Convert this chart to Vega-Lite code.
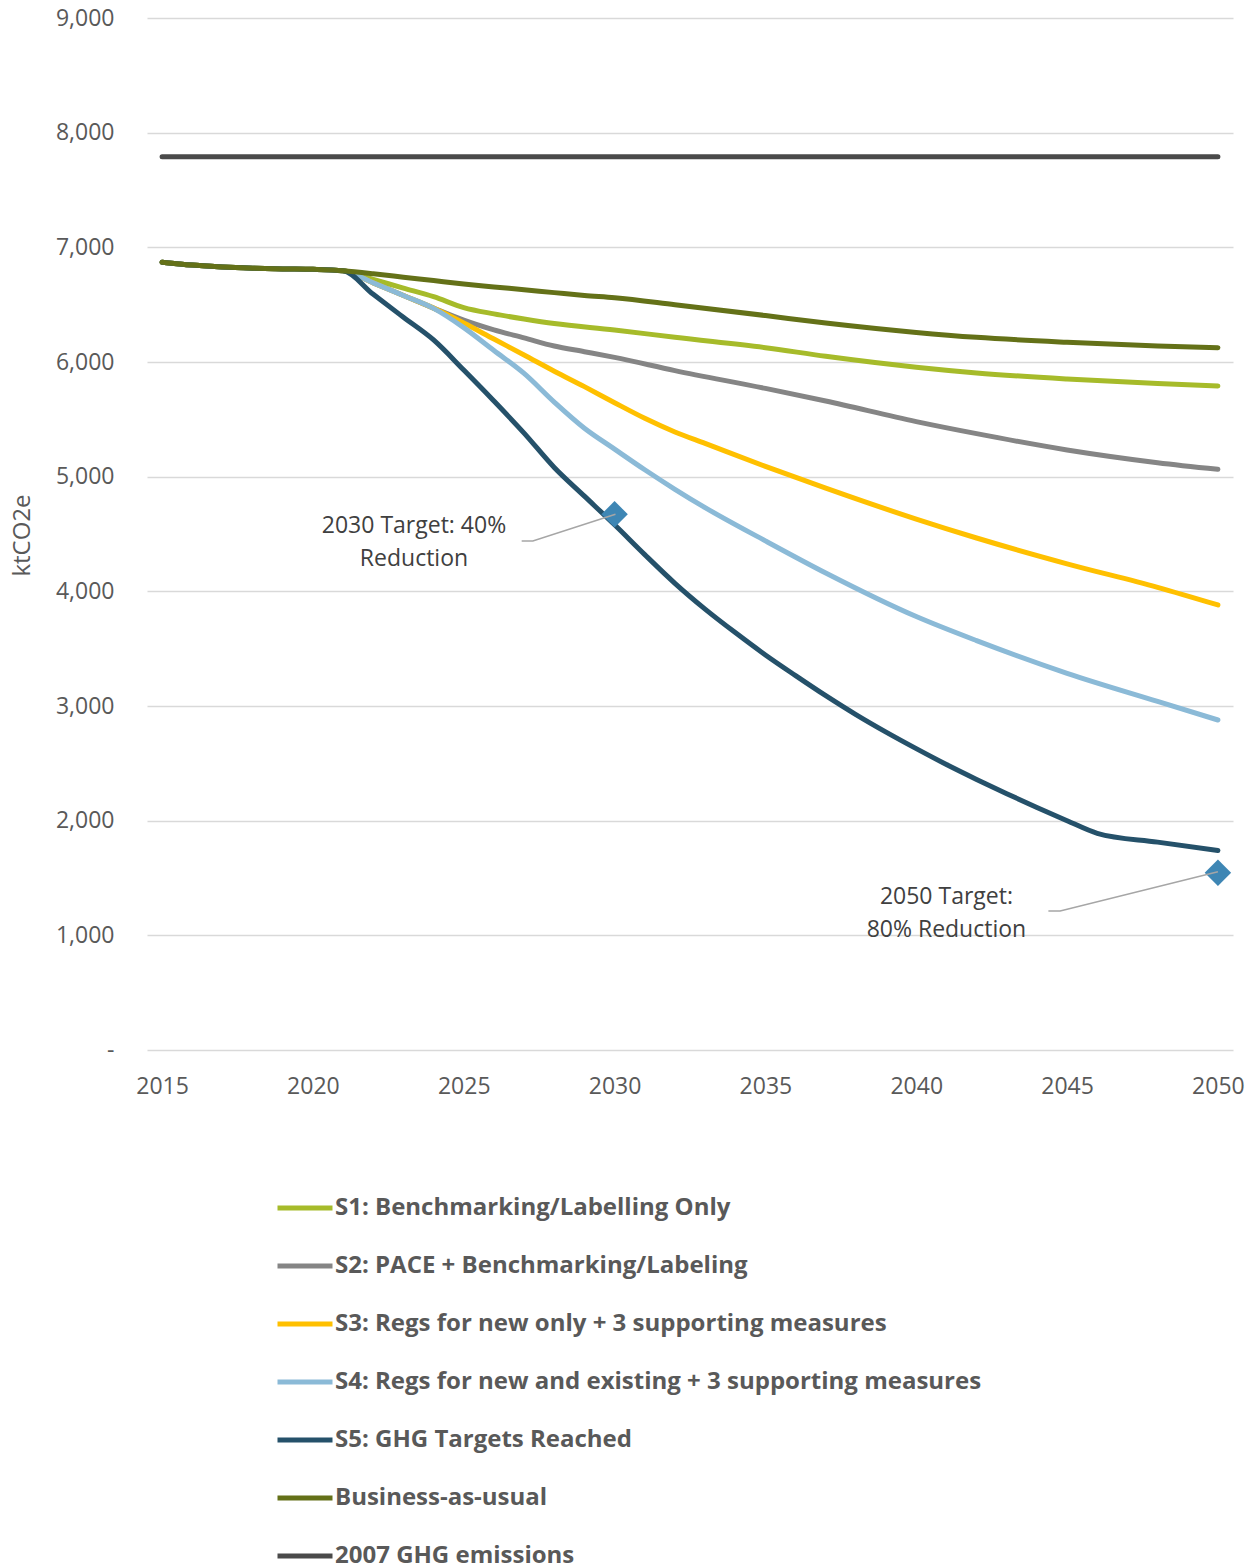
{
  "$schema": "https://vega.github.io/schema/vega-lite/v6.json",
  "autosize": "none",
  "width": 1086,
  "height": 1032,
  "padding": {"left": 147, "top": 18, "right": 26, "bottom": 518},
  "config": {
    "font": "Open Sans",
    "view": {"stroke": null},
    "axis": {"labelFont": "Open Sans", "titleFont": "Open Sans"}
  },
  "datasets": {
    "series": [
      {"series": "S1: Benchmarking/Labelling Only", "year": 2015, "value": 6870},
      {"series": "S1: Benchmarking/Labelling Only", "year": 2016, "value": 6845},
      {"series": "S1: Benchmarking/Labelling Only", "year": 2017, "value": 6828},
      {"series": "S1: Benchmarking/Labelling Only", "year": 2018, "value": 6818},
      {"series": "S1: Benchmarking/Labelling Only", "year": 2019, "value": 6812},
      {"series": "S1: Benchmarking/Labelling Only", "year": 2020, "value": 6808},
      {"series": "S1: Benchmarking/Labelling Only", "year": 2021, "value": 6795},
      {"series": "S1: Benchmarking/Labelling Only", "year": 2022, "value": 6720},
      {"series": "S1: Benchmarking/Labelling Only", "year": 2023, "value": 6645},
      {"series": "S1: Benchmarking/Labelling Only", "year": 2024, "value": 6570},
      {"series": "S1: Benchmarking/Labelling Only", "year": 2025, "value": 6475},
      {"series": "S1: Benchmarking/Labelling Only", "year": 2026, "value": 6420},
      {"series": "S1: Benchmarking/Labelling Only", "year": 2027, "value": 6375},
      {"series": "S1: Benchmarking/Labelling Only", "year": 2028, "value": 6335},
      {"series": "S1: Benchmarking/Labelling Only", "year": 2030, "value": 6280},
      {"series": "S1: Benchmarking/Labelling Only", "year": 2032, "value": 6215},
      {"series": "S1: Benchmarking/Labelling Only", "year": 2035, "value": 6125},
      {"series": "S1: Benchmarking/Labelling Only", "year": 2037, "value": 6050},
      {"series": "S1: Benchmarking/Labelling Only", "year": 2040, "value": 5955},
      {"series": "S1: Benchmarking/Labelling Only", "year": 2042, "value": 5905},
      {"series": "S1: Benchmarking/Labelling Only", "year": 2045, "value": 5852},
      {"series": "S1: Benchmarking/Labelling Only", "year": 2048, "value": 5812},
      {"series": "S1: Benchmarking/Labelling Only", "year": 2050, "value": 5791},

      {"series": "S2: PACE + Benchmarking/Labeling", "year": 2015, "value": 6870},
      {"series": "S2: PACE + Benchmarking/Labeling", "year": 2016, "value": 6845},
      {"series": "S2: PACE + Benchmarking/Labeling", "year": 2017, "value": 6828},
      {"series": "S2: PACE + Benchmarking/Labeling", "year": 2018, "value": 6818},
      {"series": "S2: PACE + Benchmarking/Labeling", "year": 2019, "value": 6812},
      {"series": "S2: PACE + Benchmarking/Labeling", "year": 2020, "value": 6808},
      {"series": "S2: PACE + Benchmarking/Labeling", "year": 2021, "value": 6795},
      {"series": "S2: PACE + Benchmarking/Labeling", "year": 2022, "value": 6690},
      {"series": "S2: PACE + Benchmarking/Labeling", "year": 2023, "value": 6580},
      {"series": "S2: PACE + Benchmarking/Labeling", "year": 2024, "value": 6470},
      {"series": "S2: PACE + Benchmarking/Labeling", "year": 2025, "value": 6365},
      {"series": "S2: PACE + Benchmarking/Labeling", "year": 2026, "value": 6280},
      {"series": "S2: PACE + Benchmarking/Labeling", "year": 2027, "value": 6210},
      {"series": "S2: PACE + Benchmarking/Labeling", "year": 2028, "value": 6139},
      {"series": "S2: PACE + Benchmarking/Labeling", "year": 2029, "value": 6090},
      {"series": "S2: PACE + Benchmarking/Labeling", "year": 2030, "value": 6040},
      {"series": "S2: PACE + Benchmarking/Labeling", "year": 2032, "value": 5925},
      {"series": "S2: PACE + Benchmarking/Labeling", "year": 2035, "value": 5770},
      {"series": "S2: PACE + Benchmarking/Labeling", "year": 2037, "value": 5660},
      {"series": "S2: PACE + Benchmarking/Labeling", "year": 2040, "value": 5480},
      {"series": "S2: PACE + Benchmarking/Labeling", "year": 2042, "value": 5375},
      {"series": "S2: PACE + Benchmarking/Labeling", "year": 2045, "value": 5233},
      {"series": "S2: PACE + Benchmarking/Labeling", "year": 2048, "value": 5122},
      {"series": "S2: PACE + Benchmarking/Labeling", "year": 2050, "value": 5064},

      {"series": "S3: Regs for new only + 3 supporting measures", "year": 2015, "value": 6870},
      {"series": "S3: Regs for new only + 3 supporting measures", "year": 2016, "value": 6845},
      {"series": "S3: Regs for new only + 3 supporting measures", "year": 2017, "value": 6828},
      {"series": "S3: Regs for new only + 3 supporting measures", "year": 2018, "value": 6818},
      {"series": "S3: Regs for new only + 3 supporting measures", "year": 2019, "value": 6812},
      {"series": "S3: Regs for new only + 3 supporting measures", "year": 2020, "value": 6808},
      {"series": "S3: Regs for new only + 3 supporting measures", "year": 2021, "value": 6795},
      {"series": "S3: Regs for new only + 3 supporting measures", "year": 2022, "value": 6690},
      {"series": "S3: Regs for new only + 3 supporting measures", "year": 2023, "value": 6580},
      {"series": "S3: Regs for new only + 3 supporting measures", "year": 2024, "value": 6470},
      {"series": "S3: Regs for new only + 3 supporting measures", "year": 2025, "value": 6340},
      {"series": "S3: Regs for new only + 3 supporting measures", "year": 2026, "value": 6200},
      {"series": "S3: Regs for new only + 3 supporting measures", "year": 2027, "value": 6061},
      {"series": "S3: Regs for new only + 3 supporting measures", "year": 2028, "value": 5920},
      {"series": "S3: Regs for new only + 3 supporting measures", "year": 2029, "value": 5785},
      {"series": "S3: Regs for new only + 3 supporting measures", "year": 2030, "value": 5645},
      {"series": "S3: Regs for new only + 3 supporting measures", "year": 2031, "value": 5509},
      {"series": "S3: Regs for new only + 3 supporting measures", "year": 2032, "value": 5390},
      {"series": "S3: Regs for new only + 3 supporting measures", "year": 2033, "value": 5290},
      {"series": "S3: Regs for new only + 3 supporting measures", "year": 2035, "value": 5090},
      {"series": "S3: Regs for new only + 3 supporting measures", "year": 2037, "value": 4900},
      {"series": "S3: Regs for new only + 3 supporting measures", "year": 2040, "value": 4630},
      {"series": "S3: Regs for new only + 3 supporting measures", "year": 2042, "value": 4465},
      {"series": "S3: Regs for new only + 3 supporting measures", "year": 2045, "value": 4240},
      {"series": "S3: Regs for new only + 3 supporting measures", "year": 2048, "value": 4035},
      {"series": "S3: Regs for new only + 3 supporting measures", "year": 2050, "value": 3881},

      {"series": "S4: Regs for new and existing + 3 supporting measures", "year": 2015, "value": 6870},
      {"series": "S4: Regs for new and existing + 3 supporting measures", "year": 2016, "value": 6845},
      {"series": "S4: Regs for new and existing + 3 supporting measures", "year": 2017, "value": 6828},
      {"series": "S4: Regs for new and existing + 3 supporting measures", "year": 2018, "value": 6818},
      {"series": "S4: Regs for new and existing + 3 supporting measures", "year": 2019, "value": 6812},
      {"series": "S4: Regs for new and existing + 3 supporting measures", "year": 2020, "value": 6808},
      {"series": "S4: Regs for new and existing + 3 supporting measures", "year": 2021, "value": 6795},
      {"series": "S4: Regs for new and existing + 3 supporting measures", "year": 2022, "value": 6690},
      {"series": "S4: Regs for new and existing + 3 supporting measures", "year": 2023, "value": 6580},
      {"series": "S4: Regs for new and existing + 3 supporting measures", "year": 2024, "value": 6468},
      {"series": "S4: Regs for new and existing + 3 supporting measures", "year": 2025, "value": 6300},
      {"series": "S4: Regs for new and existing + 3 supporting measures", "year": 2026, "value": 6100},
      {"series": "S4: Regs for new and existing + 3 supporting measures", "year": 2027, "value": 5900},
      {"series": "S4: Regs for new and existing + 3 supporting measures", "year": 2028, "value": 5650},
      {"series": "S4: Regs for new and existing + 3 supporting measures", "year": 2029, "value": 5422},
      {"series": "S4: Regs for new and existing + 3 supporting measures", "year": 2030, "value": 5240},
      {"series": "S4: Regs for new and existing + 3 supporting measures", "year": 2031, "value": 5060},
      {"series": "S4: Regs for new and existing + 3 supporting measures", "year": 2032, "value": 4890},
      {"series": "S4: Regs for new and existing + 3 supporting measures", "year": 2033, "value": 4730},
      {"series": "S4: Regs for new and existing + 3 supporting measures", "year": 2035, "value": 4440},
      {"series": "S4: Regs for new and existing + 3 supporting measures", "year": 2037, "value": 4160},
      {"series": "S4: Regs for new and existing + 3 supporting measures", "year": 2040, "value": 3780},
      {"series": "S4: Regs for new and existing + 3 supporting measures", "year": 2042, "value": 3570},
      {"series": "S4: Regs for new and existing + 3 supporting measures", "year": 2045, "value": 3285},
      {"series": "S4: Regs for new and existing + 3 supporting measures", "year": 2048, "value": 3040},
      {"series": "S4: Regs for new and existing + 3 supporting measures", "year": 2050, "value": 2878},

      {"series": "S5: GHG Targets Reached", "year": 2015, "value": 6870},
      {"series": "S5: GHG Targets Reached", "year": 2016, "value": 6845},
      {"series": "S5: GHG Targets Reached", "year": 2017, "value": 6828},
      {"series": "S5: GHG Targets Reached", "year": 2018, "value": 6818},
      {"series": "S5: GHG Targets Reached", "year": 2019, "value": 6812},
      {"series": "S5: GHG Targets Reached", "year": 2020, "value": 6808},
      {"series": "S5: GHG Targets Reached", "year": 2021, "value": 6795},
      {"series": "S5: GHG Targets Reached", "year": 2022, "value": 6590},
      {"series": "S5: GHG Targets Reached", "year": 2023, "value": 6390},
      {"series": "S5: GHG Targets Reached", "year": 2024, "value": 6192},
      {"series": "S5: GHG Targets Reached", "year": 2025, "value": 5930},
      {"series": "S5: GHG Targets Reached", "year": 2026, "value": 5660},
      {"series": "S5: GHG Targets Reached", "year": 2027, "value": 5380},
      {"series": "S5: GHG Targets Reached", "year": 2028, "value": 5080},
      {"series": "S5: GHG Targets Reached", "year": 2029, "value": 4830},
      {"series": "S5: GHG Targets Reached", "year": 2030, "value": 4580},
      {"series": "S5: GHG Targets Reached", "year": 2031, "value": 4320},
      {"series": "S5: GHG Targets Reached", "year": 2032, "value": 4070},
      {"series": "S5: GHG Targets Reached", "year": 2033, "value": 3845},
      {"series": "S5: GHG Targets Reached", "year": 2034, "value": 3640},
      {"series": "S5: GHG Targets Reached", "year": 2035, "value": 3445},
      {"series": "S5: GHG Targets Reached", "year": 2036, "value": 3265},
      {"series": "S5: GHG Targets Reached", "year": 2037, "value": 3090},
      {"series": "S5: GHG Targets Reached", "year": 2038, "value": 2925},
      {"series": "S5: GHG Targets Reached", "year": 2039, "value": 2772},
      {"series": "S5: GHG Targets Reached", "year": 2040, "value": 2628},
      {"series": "S5: GHG Targets Reached", "year": 2041, "value": 2490},
      {"series": "S5: GHG Targets Reached", "year": 2042, "value": 2360},
      {"series": "S5: GHG Targets Reached", "year": 2043, "value": 2235},
      {"series": "S5: GHG Targets Reached", "year": 2044, "value": 2115},
      {"series": "S5: GHG Targets Reached", "year": 2045, "value": 2000},
      {"series": "S5: GHG Targets Reached", "year": 2046, "value": 1890},
      {"series": "S5: GHG Targets Reached", "year": 2048, "value": 1813},
      {"series": "S5: GHG Targets Reached", "year": 2050, "value": 1740},

      {"series": "Business-as-usual", "year": 2015, "value": 6870},
      {"series": "Business-as-usual", "year": 2016, "value": 6845},
      {"series": "Business-as-usual", "year": 2017, "value": 6828},
      {"series": "Business-as-usual", "year": 2018, "value": 6818},
      {"series": "Business-as-usual", "year": 2019, "value": 6812},
      {"series": "Business-as-usual", "year": 2020, "value": 6808},
      {"series": "Business-as-usual", "year": 2021, "value": 6795},
      {"series": "Business-as-usual", "year": 2022, "value": 6770},
      {"series": "Business-as-usual", "year": 2023, "value": 6740},
      {"series": "Business-as-usual", "year": 2024, "value": 6710},
      {"series": "Business-as-usual", "year": 2025, "value": 6680},
      {"series": "Business-as-usual", "year": 2026, "value": 6655},
      {"series": "Business-as-usual", "year": 2027, "value": 6630},
      {"series": "Business-as-usual", "year": 2028, "value": 6605},
      {"series": "Business-as-usual", "year": 2029, "value": 6580},
      {"series": "Business-as-usual", "year": 2030, "value": 6560},
      {"series": "Business-as-usual", "year": 2032, "value": 6500},
      {"series": "Business-as-usual", "year": 2035, "value": 6405},
      {"series": "Business-as-usual", "year": 2037, "value": 6340},
      {"series": "Business-as-usual", "year": 2040, "value": 6258},
      {"series": "Business-as-usual", "year": 2042, "value": 6215},
      {"series": "Business-as-usual", "year": 2045, "value": 6172},
      {"series": "Business-as-usual", "year": 2048, "value": 6140},
      {"series": "Business-as-usual", "year": 2050, "value": 6125},

      {"series": "2007 GHG emissions", "year": 2015, "value": 7790},
      {"series": "2007 GHG emissions", "year": 2050, "value": 7790}
    ],
    "leaders": [
      {"g": "a", "year": 2026.92, "value": 4439},
      {"g": "a", "year": 2027.29, "value": 4439},
      {"g": "a", "year": 2030.03, "value": 4672},
      {"g": "b", "year": 2044.38, "value": 1212},
      {"g": "b", "year": 2044.77, "value": 1212},
      {"g": "b", "year": 2050.0, "value": 1555}
    ],
    "targets": [
      {"year": 2030, "value": 4672},
      {"year": 2050, "value": 1546}
    ],
    "labels": [
      {"year": 2023.35, "value": 4570, "label": "2030 Target: 40%\nReduction"},
      {"year": 2041.0, "value": 1334, "label": "2050 Target:\n80% Reduction"}
    ]
  },
  "layer": [
    {
      "data": {"name": "series"},
      "mark": {"type": "line", "strokeWidth": 5, "interpolate": "monotone", "strokeCap": "round", "strokeJoin": "round"},
      "encoding": {
        "x": {
          "field": "year", "type": "quantitative",
          "scale": {"domain": [2014.5, 2050.5], "nice": false, "zero": false},
          "axis": {
            "title": null, "values": [2015, 2020, 2025, 2030, 2035, 2040, 2045, 2050],
            "format": "d", "grid": false, "domain": false, "ticks": false, "tickSize": 0,
            "labelFontSize": 23, "labelColor": "#595959", "labelPadding": 25
          }
        },
        "y": {
          "field": "value", "type": "quantitative",
          "scale": {"domain": [0, 9000], "nice": false},
          "axis": {
            "title": "ktCO2e", "values": [0, 1000, 2000, 3000, 4000, 5000, 6000, 7000, 8000, 9000],
            "labelExpr": "datum.value == 0 ? '-' : format(datum.value, ',')",
            "grid": true, "gridColor": "#D9D9D9", "gridWidth": 1.5,
            "domain": false, "ticks": false, "tickSize": 0,
            "labelFontSize": 23, "labelColor": "#595959", "labelPadding": 33,
            "titleFontSize": 24, "titleFontWeight": "normal", "titleColor": "#595959",
            "titleX": -125, "titleY": 517, "titleAngle": 270, "titleAlign": "center", "titleBaseline": "middle"
          }
        },
        "color": {
          "field": "series", "type": "nominal",
          "scale": {
            "domain": [
              "S1: Benchmarking/Labelling Only",
              "S2: PACE + Benchmarking/Labeling",
              "S3: Regs for new only + 3 supporting measures",
              "S4: Regs for new and existing + 3 supporting measures",
              "S5: GHG Targets Reached",
              "Business-as-usual",
              "2007 GHG emissions"
            ],
            "range": ["#A6BB2A", "#858585", "#FFC000", "#8BBAD7", "#25516A", "#647118", "#4A4A4A"]
          },
          "legend": {
            "title": null, "orient": "none", "legendX": 128, "legendY": 1160, "direction": "vertical",
            "symbolType": "stroke", "symbolStrokeWidth": 5, "symbolSize": 3025,
            "labelFont": "Open Sans", "labelFontWeight": "bold", "labelFontSize": 24, "labelColor": "#595959",
            "labelOffset": 0, "rowPadding": 16, "labelLimit": 1000
          }
        }
      }
    },
    {
      "data": {"name": "targets"},
      "mark": {"type": "point", "shape": "diamond", "filled": true, "size": 700, "color": "#3E86B4", "opacity": 1},
      "encoding": {
        "x": {"field": "year", "type": "quantitative"},
        "y": {"field": "value", "type": "quantitative"}
      }
    },
    {
      "data": {"name": "leaders"},
      "mark": {"type": "line", "strokeWidth": 1.5, "color": "#A6A6A6"},
      "encoding": {
        "x": {"field": "year", "type": "quantitative"},
        "y": {"field": "value", "type": "quantitative"},
        "detail": {"field": "g", "type": "nominal"}
      }
    },
    {
      "data": {"name": "labels"},
      "mark": {"type": "text", "fontSize": 23, "font": "Open Sans", "color": "#404040", "align": "center", "baseline": "middle", "lineBreak": "\n", "lineHeight": 33},
      "encoding": {
        "x": {"field": "year", "type": "quantitative"},
        "y": {"field": "value", "type": "quantitative"},
        "text": {"field": "label", "type": "nominal"}
      }
    }
  ]
}
